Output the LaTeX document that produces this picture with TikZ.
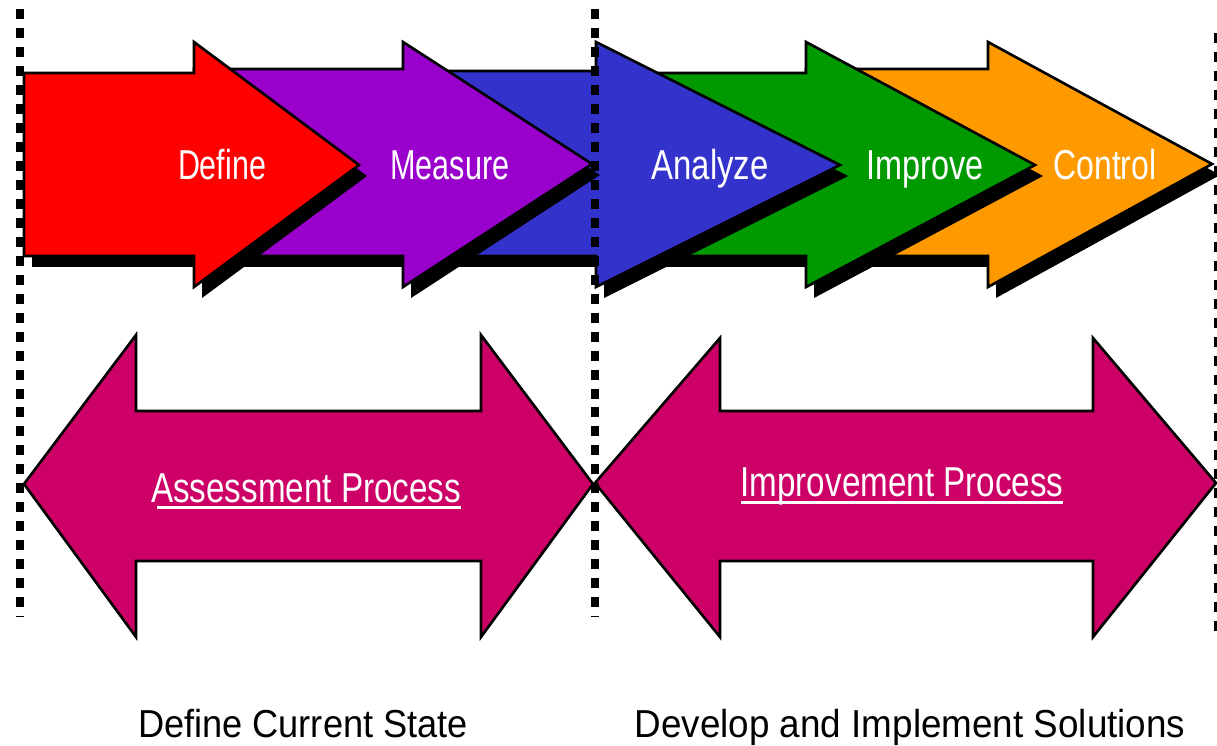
\documentclass[tikz,border=0pt]{standalone}
\usepackage{fontspec}
\setmainfont{Liberation Sans}
\usepackage{graphicx}
\definecolor{cRed}{HTML}{FF0000}
\definecolor{cPurple}{HTML}{9900CC}
\definecolor{cBlue}{HTML}{3333CC}
\definecolor{cGreen}{HTML}{009900}
\definecolor{cOrange}{HTML}{FF9900}
\definecolor{cMagenta}{HTML}{CC0066}
\newlength\pxu
\setlength\pxu{0.56905pt}
\newcommand{\fitw}[2]{\resizebox{#1}{\height}{#2}}
\newcommand{\stagearrow}[6]{%
  \fill[black,shift={(8,11)}] (#2,#3) -- (#4,#3) -- (#4,42) -- (#5,#6) -- (#4,287) -- (#4,256) -- (#2,256) -- cycle;
  \filldraw[fill=#1,outline] (#2,#3) -- (#4,#3) -- (#4,42) -- (#5,#6) -- (#4,287) -- (#4,256) -- (#2,256) -- cycle;
}
\tikzset{
  outline/.style={draw=black,line width=1.5pt,line join=miter},
  toplabel/.style={anchor=base,inner sep=0pt,text=white,font=\fontsize{23.8}{28}\selectfont},
  proclabel/.style={anchor=base,inner sep=0pt,text=white,font=\fontsize{23.8}{28}\selectfont},
  botlabel/.style={anchor=base,inner sep=0pt,text=black,font=\fontsize{22.2}{26}\selectfont},
  dotline/.style={black,line width=4.5pt,dash pattern=on 5.7pt off 5.1pt},
}
\begin{document}
\begin{tikzpicture}[x=0.02cm,y=-0.02cm]
\useasboundingbox (0,0) rectangle (1217,746);
\clip (0,0) rectangle (1217,746);
\fill[white] (0,0) rectangle (1217,746);

% top stage arrows, drawn right to left
\stagearrow{cOrange}{806}{69}{988}{1212}{164}
\stagearrow{cGreen}{596}{73}{806}{1035}{165}
\stagearrow{cBlue}{403}{71}{596}{840}{165}
\stagearrow{cPurple}{194}{69}{403}{592}{164}
\stagearrow{cRed}{24}{73}{194}{359}{165}

% bottom double arrows
\filldraw[fill=cMagenta,outline] (24,484) -- (136,335) -- (136,411) -- (481,411) -- (481,335) -- (593,484) -- (481,637) -- (481,561) -- (136,561) -- (136,637) -- cycle;
\filldraw[fill=cMagenta,outline] (595,483) -- (720,338) -- (720,411) -- (1093,411) -- (1093,338) -- (1216,483) -- (1093,637) -- (1093,561) -- (720,561) -- (720,637) -- cycle;

% labels
\node[toplabel] (define) at (222,180) {\fitw{88\pxu}{Define}};
\node[toplabel] (measure) at (450,180) {\fitw{119\pxu}{Measure}};
\node[toplabel] (analyze) at (710,180) {\fitw{117\pxu}{Analyze}};
\node[toplabel] (improve) at (925,180) {\fitw{117\pxu}{Improve}};
\node[toplabel] (control) at (1105,180) {\fitw{103\pxu}{Control}};

\node[proclabel] (assess) at (306,502) {\fitw{310\pxu}{Assessment Process}\llap{\rule[-3.7pt]{304\pxu}{1.7pt}}};
\node[proclabel] (improvp) at (902,497) {\fitw{323\pxu}{Improvement Process}\llap{\rule[-3.7pt]{323\pxu}{1.7pt}}};

\node[botlabel] (defstate) at (303,737) {\fitw{330\pxu}{Define Current State}};
\node[botlabel] (develop) at (910,737) {\fitw{551\pxu}{Develop and Implement Solutions}};

% dotted dividers
\coordinate (l1) at (20,9);   \coordinate (l2) at (20,617);
\coordinate (m1) at (595,9);  \coordinate (m2) at (595,617);
\coordinate (r1) at (1218,33); \coordinate (r2) at (1218,633);
\draw[dotline] (l1) -- (l2);
\draw[dotline] (m1) -- (m2);
\draw[dotline] (r1) -- (r2);
\end{tikzpicture}
\end{document}
